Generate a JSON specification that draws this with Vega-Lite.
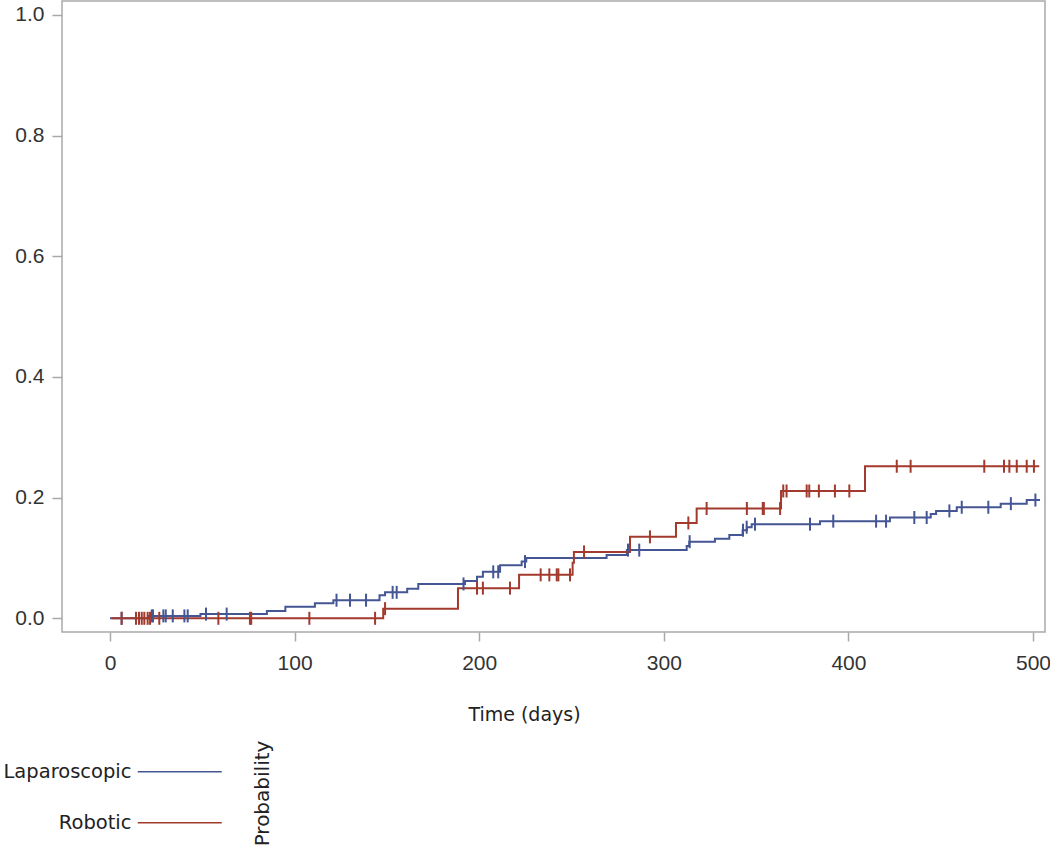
{
  "$schema": "https://vega.github.io/schema/vega-lite/v6.json",
  "width": 983,
  "height": 631,
  "autosize": "none",
  "padding": {"left": 62, "top": 1, "right": 5, "bottom": 215},
  "background": "white",
  "config": {
    "view": {"stroke": "#a9a9a9", "strokeWidth": 1.5},
    "axis": {
      "grid": false,
      "domain": false,
      "tickColor": "#a9a9a9",
      "tickWidth": 1.5,
      "labelFont": "Liberation Sans",
      "labelFontSize": 21,
      "labelColor": "#333333",
      "titleFont": "DejaVu Sans",
      "titleFontSize": 19,
      "titleFontWeight": "normal",
      "titleColor": "#222222"
    },
    "legend": {
      "labelFont": "DejaVu Sans",
      "labelFontSize": 19.5,
      "labelColor": "#222222"
    }
  },
  "datasets": {
    "curves": [
      {"group": "Laparoscopic", "t": 0, "p": 0},
      {"group": "Laparoscopic", "t": 21, "p": 0.004},
      {"group": "Laparoscopic", "t": 49, "p": 0.007},
      {"group": "Laparoscopic", "t": 85, "p": 0.012},
      {"group": "Laparoscopic", "t": 95, "p": 0.019},
      {"group": "Laparoscopic", "t": 111, "p": 0.025},
      {"group": "Laparoscopic", "t": 121, "p": 0.030},
      {"group": "Laparoscopic", "t": 146, "p": 0.038},
      {"group": "Laparoscopic", "t": 149, "p": 0.043},
      {"group": "Laparoscopic", "t": 161, "p": 0.049},
      {"group": "Laparoscopic", "t": 167, "p": 0.057},
      {"group": "Laparoscopic", "t": 192.3, "p": 0.062},
      {"group": "Laparoscopic", "t": 198.8, "p": 0.069},
      {"group": "Laparoscopic", "t": 202, "p": 0.077},
      {"group": "Laparoscopic", "t": 211.3, "p": 0.088},
      {"group": "Laparoscopic", "t": 223, "p": 0.094},
      {"group": "Laparoscopic", "t": 225.5, "p": 0.100},
      {"group": "Laparoscopic", "t": 269, "p": 0.105},
      {"group": "Laparoscopic", "t": 280, "p": 0.113},
      {"group": "Laparoscopic", "t": 312.4, "p": 0.120},
      {"group": "Laparoscopic", "t": 313.8, "p": 0.127},
      {"group": "Laparoscopic", "t": 327.7, "p": 0.132},
      {"group": "Laparoscopic", "t": 335.5, "p": 0.138},
      {"group": "Laparoscopic", "t": 342.7, "p": 0.146},
      {"group": "Laparoscopic", "t": 345, "p": 0.151},
      {"group": "Laparoscopic", "t": 347.6, "p": 0.156},
      {"group": "Laparoscopic", "t": 384.6, "p": 0.161},
      {"group": "Laparoscopic", "t": 422.5, "p": 0.167},
      {"group": "Laparoscopic", "t": 444.6, "p": 0.173},
      {"group": "Laparoscopic", "t": 447.5, "p": 0.178},
      {"group": "Laparoscopic", "t": 458.7, "p": 0.184},
      {"group": "Laparoscopic", "t": 482.5, "p": 0.190},
      {"group": "Laparoscopic", "t": 496.6, "p": 0.196},
      {"group": "Laparoscopic", "t": 503.8, "p": 0.196},
      {"group": "Robotic", "t": 1, "p": 0},
      {"group": "Robotic", "t": 148, "p": 0.016},
      {"group": "Robotic", "t": 188.5, "p": 0.050},
      {"group": "Robotic", "t": 221.6, "p": 0.072},
      {"group": "Robotic", "t": 250.6, "p": 0.092},
      {"group": "Robotic", "t": 251.3, "p": 0.110},
      {"group": "Robotic", "t": 281.7, "p": 0.135},
      {"group": "Robotic", "t": 306.6, "p": 0.158},
      {"group": "Robotic", "t": 317.8, "p": 0.182},
      {"group": "Robotic", "t": 363.5, "p": 0.211},
      {"group": "Robotic", "t": 409, "p": 0.252},
      {"group": "Robotic", "t": 503.4, "p": 0.252}
    ],
    "censored": [
      {"group": "Laparoscopic", "t": 6.3, "p": 0},
      {"group": "Laparoscopic", "t": 22.6, "p": 0.004},
      {"group": "Laparoscopic", "t": 23.3, "p": 0.004},
      {"group": "Laparoscopic", "t": 28.9, "p": 0.004},
      {"group": "Laparoscopic", "t": 30.2, "p": 0.004},
      {"group": "Laparoscopic", "t": 34, "p": 0.004},
      {"group": "Laparoscopic", "t": 40.3, "p": 0.004},
      {"group": "Laparoscopic", "t": 42.1, "p": 0.004},
      {"group": "Laparoscopic", "t": 52, "p": 0.007},
      {"group": "Laparoscopic", "t": 63.2, "p": 0.007},
      {"group": "Laparoscopic", "t": 122.7, "p": 0.030},
      {"group": "Laparoscopic", "t": 130, "p": 0.030},
      {"group": "Laparoscopic", "t": 138.7, "p": 0.030},
      {"group": "Laparoscopic", "t": 153.1, "p": 0.043},
      {"group": "Laparoscopic", "t": 155.3, "p": 0.043},
      {"group": "Laparoscopic", "t": 191.5, "p": 0.057},
      {"group": "Laparoscopic", "t": 207.6, "p": 0.077},
      {"group": "Laparoscopic", "t": 210.3, "p": 0.077},
      {"group": "Laparoscopic", "t": 224.8, "p": 0.094},
      {"group": "Laparoscopic", "t": 280.6, "p": 0.113},
      {"group": "Laparoscopic", "t": 286.7, "p": 0.113},
      {"group": "Laparoscopic", "t": 314, "p": 0.127},
      {"group": "Laparoscopic", "t": 342.9, "p": 0.146},
      {"group": "Laparoscopic", "t": 344.9, "p": 0.151},
      {"group": "Laparoscopic", "t": 349.4, "p": 0.156},
      {"group": "Laparoscopic", "t": 379.2, "p": 0.156},
      {"group": "Laparoscopic", "t": 391.8, "p": 0.161},
      {"group": "Laparoscopic", "t": 415, "p": 0.161},
      {"group": "Laparoscopic", "t": 420.4, "p": 0.161},
      {"group": "Laparoscopic", "t": 435.7, "p": 0.167},
      {"group": "Laparoscopic", "t": 442.4, "p": 0.167},
      {"group": "Laparoscopic", "t": 454.7, "p": 0.178},
      {"group": "Laparoscopic", "t": 461.4, "p": 0.184},
      {"group": "Laparoscopic", "t": 475.8, "p": 0.184},
      {"group": "Laparoscopic", "t": 488, "p": 0.190},
      {"group": "Laparoscopic", "t": 501.3, "p": 0.196},
      {"group": "Robotic", "t": 6.3, "p": 0},
      {"group": "Robotic", "t": 14.1, "p": 0},
      {"group": "Robotic", "t": 15.7, "p": 0},
      {"group": "Robotic", "t": 17.2, "p": 0},
      {"group": "Robotic", "t": 18.6, "p": 0},
      {"group": "Robotic", "t": 20.4, "p": 0},
      {"group": "Robotic", "t": 21.7, "p": 0},
      {"group": "Robotic", "t": 26.7, "p": 0},
      {"group": "Robotic", "t": 58.7, "p": 0},
      {"group": "Robotic", "t": 75.8, "p": 0},
      {"group": "Robotic", "t": 76.5, "p": 0},
      {"group": "Robotic", "t": 108, "p": 0},
      {"group": "Robotic", "t": 143.6, "p": 0},
      {"group": "Robotic", "t": 149, "p": 0.016},
      {"group": "Robotic", "t": 198.8, "p": 0.050},
      {"group": "Robotic", "t": 202, "p": 0.050},
      {"group": "Robotic", "t": 216.7, "p": 0.050},
      {"group": "Robotic", "t": 233.3, "p": 0.072},
      {"group": "Robotic", "t": 238, "p": 0.072},
      {"group": "Robotic", "t": 242, "p": 0.072},
      {"group": "Robotic", "t": 242.9, "p": 0.072},
      {"group": "Robotic", "t": 249.2, "p": 0.072},
      {"group": "Robotic", "t": 256.8, "p": 0.110},
      {"group": "Robotic", "t": 292.5, "p": 0.135},
      {"group": "Robotic", "t": 313.3, "p": 0.158},
      {"group": "Robotic", "t": 323.2, "p": 0.182},
      {"group": "Robotic", "t": 345, "p": 0.182},
      {"group": "Robotic", "t": 353.6, "p": 0.182},
      {"group": "Robotic", "t": 354.2, "p": 0.182},
      {"group": "Robotic", "t": 363, "p": 0.182},
      {"group": "Robotic", "t": 364.7, "p": 0.211},
      {"group": "Robotic", "t": 366.5, "p": 0.211},
      {"group": "Robotic", "t": 377.4, "p": 0.211},
      {"group": "Robotic", "t": 378.8, "p": 0.211},
      {"group": "Robotic", "t": 384, "p": 0.211},
      {"group": "Robotic", "t": 392.7, "p": 0.211},
      {"group": "Robotic", "t": 400.5, "p": 0.211},
      {"group": "Robotic", "t": 426.2, "p": 0.252},
      {"group": "Robotic", "t": 433.7, "p": 0.252},
      {"group": "Robotic", "t": 473.6, "p": 0.252},
      {"group": "Robotic", "t": 484.3, "p": 0.252},
      {"group": "Robotic", "t": 487.2, "p": 0.252},
      {"group": "Robotic", "t": 491.2, "p": 0.252},
      {"group": "Robotic", "t": 496.6, "p": 0.252},
      {"group": "Robotic", "t": 500.5, "p": 0.252}
    ]
  },
  "encoding": {
    "x": {
      "field": "t",
      "type": "quantitative",
      "scale": {"domain": [-26, 506.5], "nice": false, "zero": false},
      "axis": {
        "title": "Time (days)",
        "values": [0, 100, 200, 300, 400, 500],
        "tickSize": 9,
        "labelPadding": 11,
        "titleX": 462,
        "titleY": 82,
        "titleAlign": "center",
        "titleAnchor": null,
        "titleBaseline": "middle"
      }
    },
    "y": {
      "field": "p",
      "type": "quantitative",
      "scale": {"domain": [-0.0227, 1.023], "nice": false, "zero": false},
      "axis": {
        "title": "Probability",
        "values": [0, 0.2, 0.4, 0.6, 0.8, 1.0],
        "format": ".1f",
        "tickSize": 10,
        "labelPadding": 8,
        "titleX": 200,
        "titleY": 792,
        "titleFontSize": 20,
        "titleAngle": -90,
        "titleAlign": "center",
        "titleAnchor": null,
        "titleBaseline": "middle"
      }
    },
    "color": {
      "field": "group",
      "type": "nominal",
      "scale": {"domain": ["Laparoscopic", "Robotic"], "range": ["#445694", "#A23A2E"]}
    }
  },
  "layer": [
    {
      "data": {"name": "curves"},
      "mark": {"type": "line", "interpolate": "step-after", "strokeWidth": 2},
      "encoding": {
        "color": {
          "field": "group",
          "type": "nominal",
          "scale": {"domain": ["Laparoscopic", "Robotic"], "range": ["#445694", "#A23A2E"]},
          "legend": {
            "title": null,
            "orient": "none",
            "legendX": 108,
            "legendY": 761,
            "symbolType": "M-8.4,0H8.4",
            "symbolSize": 100,
            "symbolStrokeWidth": 1.5,
            "labelAlign": "right",
            "labelOffset": -58,
            "rowPadding": 30
          }
        }
      }
    },
    {
      "data": {"name": "censored"},
      "mark": {"type": "point", "shape": "M0,-1V1", "size": 169, "strokeWidth": 2, "filled": false, "opacity": 1},
      "encoding": {
        "color": {
          "field": "group",
          "type": "nominal",
          "scale": {"domain": ["Laparoscopic", "Robotic"], "range": ["#445694", "#A23A2E"]},
          "legend": null
        }
      }
    }
  ]
}
